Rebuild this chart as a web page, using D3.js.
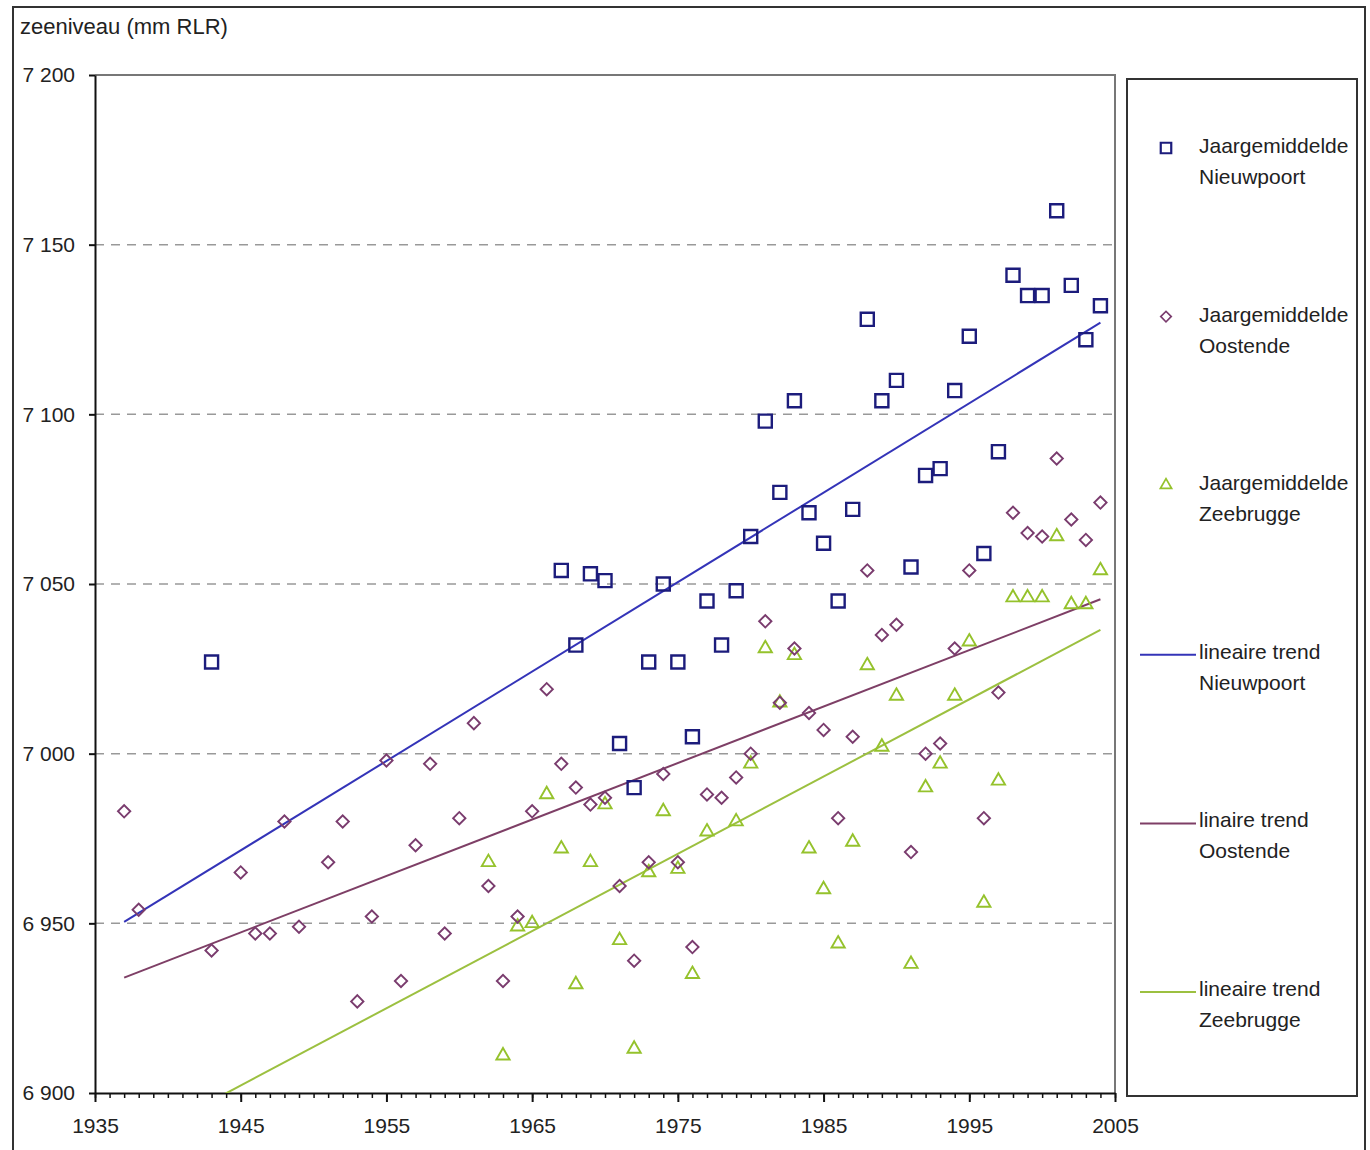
<!DOCTYPE html>
<html>
<head>
<meta charset="utf-8">
<script src="https://cdn.jsdelivr.net/npm/d3@7"></script>
<style>
  body { margin: 0; background: #fff; }
  text { font-family: "Liberation Sans", Arial, sans-serif; fill: #222; }
</style>
</head>
<body>
<div id="chart"></div>
<script>
// yearly means (mm RLR)
const nieuwpoortYears = [1943, 1967, 1968, 1969, 1970, 1971, 1972, 1973, 1974, 1975, 1976, 1977, 1978, 1979, 1980,
  1981, 1982, 1983, 1984, 1985, 1986, 1987, 1988, 1989, 1990, 1991, 1992, 1993, 1994, 1995, 1996, 1997, 1998, 1999,
  2000, 2001, 2002, 2003, 2004]
const nieuwpoortValues = [7027, 7054, 7032, 7053, 7051, 7003, 6990, 7027, 7050, 7027, 7005, 7045, 7032, 7048, 7064,
  7098, 7077, 7104, 7071, 7062, 7045, 7072, 7128, 7104, 7110, 7055, 7082, 7084, 7107, 7123, 7059, 7089, 7141, 7135,
  7135, 7160, 7138, 7122, 7132]

const oostendeYears = [1937, 1938, 1943, 1945, 1946, 1947, 1948, 1949, 1951, 1952, 1953, 1954, 1955, 1956, 1957,
  1958, 1959, 1960, 1961, 1962, 1963, 1964, 1965, 1966, 1967, 1968, 1969, 1970, 1971, 1972, 1973, 1974, 1975, 1976,
  1977, 1978, 1979, 1980, 1981, 1982, 1983, 1984, 1985, 1986, 1987, 1988, 1989, 1990, 1991, 1992, 1993, 1994, 1995,
  1996, 1997, 1998, 1999, 2000, 2001, 2002, 2003, 2004]
const oostendeValues = [6983, 6954, 6942, 6965, 6947, 6947, 6980, 6949, 6968, 6980, 6927, 6952, 6998, 6933, 6973,
  6997, 6947, 6981, 7009, 6961, 6933, 6952, 6983, 7019, 6997, 6990, 6985, 6987, 6961, 6939, 6968, 6994, 6968, 6943,
  6988, 6987, 6993, 7000, 7039, 7015, 7031, 7012, 7007, 6981, 7005, 7054, 7035, 7038, 6971, 7000, 7003, 7031, 7054,
  6981, 7018, 7071, 7065, 7064, 7087, 7069, 7063, 7074]

const zeebruggeYears = [1962, 1963, 1964, 1965, 1966, 1967, 1968, 1969, 1970, 1971, 1972, 1973, 1974, 1975, 1976,
  1977, 1979, 1980, 1981, 1982, 1983, 1984, 1985, 1986, 1987, 1988, 1989, 1990, 1991, 1992, 1993, 1994, 1995, 1996,
  1997, 1998, 1999, 2000, 2001, 2002, 2003, 2004]
const zeebruggeValues = [6968, 6911, 6949, 6950, 6988, 6972, 6932, 6968, 6985, 6945, 6913, 6965, 6983, 6966, 6935,
  6977, 6980, 6997, 7031, 7015, 7029, 6972, 6960, 6944, 6974, 7026, 7002, 7017, 6938, 6990, 6997, 7017, 7033, 6956,
  6992, 7046, 7046, 7046, 7064, 7044, 7044, 7054]

// linear trends: value at first and last year
const trendYears = [1937, 2004]
const nieuwpoortTrend = [6950.4, 7127]
const oostendeTrend = [6934, 7045.5]
const zeebruggeTrend = [6884, 7036.5]

const xTicks = [1935, 1945, 1955, 1965, 1975, 1985, 1995, 2005]
const yTicks = [6900, 6950, 7000, 7050, 7100, 7150, 7200]

const legendLabels = [
  ["Jaargemiddelde", "Nieuwpoort"],
  ["Jaargemiddelde", "Oostende"],
  ["Jaargemiddelde", "Zeebrugge"],
  ["lineaire trend", "Nieuwpoort"],
  ["linaire trend", "Oostende"],
  ["lineaire trend", "Zeebrugge"]
]

const W = 1370, H = 1150
const plot = { left: 95, top: 75, right: 1115, bottom: 1093 }

const svg = d3.select("#chart").append("svg")
  .attr("width", W)
  .attr("height", H)

// outer frame
svg.append("rect")
  .attr("x", 13).attr("y", 7)
  .attr("width", 1352).attr("height", 1170)
  .attr("fill", "none").attr("stroke", "#333").attr("stroke-width", 2)

const x = d3.scaleLinear().domain([1935, 2005]).range([plot.left, plot.right])
const y = d3.scaleLinear().domain([6900, 7200]).range([plot.bottom, plot.top])

const fmt = d3.formatLocale({ decimal: ",", thousands: " ", grouping: [3], currency: ["", ""] }).format(",")

svg.append("defs").append("clipPath").attr("id", "plotclip")
  .append("rect")
  .attr("x", plot.left).attr("y", plot.top)
  .attr("width", plot.right - plot.left).attr("height", plot.bottom - plot.top)

// dashed gridlines
svg.append("g")
  .selectAll("line")
  .data(yTicks.filter(d => d > 6900 && d < 7200))
  .join("line")
  .attr("x1", plot.left).attr("x2", plot.right)
  .attr("y1", d => y(d)).attr("y2", d => y(d))
  .attr("stroke", "#999").attr("stroke-width", 1.5)
  .attr("stroke-dasharray", "9,7")

// top and right border of plot
svg.append("path")
  .attr("d", `M${plot.left},${plot.top}H${plot.right}V${plot.bottom}`)
  .attr("fill", "none").attr("stroke", "#777").attr("stroke-width", 2)

// y axis
const yAxis = svg.append("g")
  .attr("transform", `translate(${plot.left},0)`)
  .call(d3.axisLeft(y).tickValues(yTicks).tickFormat(fmt).tickSize(6).tickPadding(14).tickSizeOuter(0))
yAxis.select(".domain").attr("stroke", "#111").attr("stroke-width", 2)
yAxis.selectAll(".tick line").attr("stroke", "#111").attr("stroke-width", 2)
yAxis.selectAll("text").attr("font-size", 21).attr("fill", "#333")
  .attr("font-family", "Liberation Sans, Arial, sans-serif")

// x axis: yearly minor ticks + decade ticks
const xMinor = svg.append("g")
  .attr("transform", `translate(0,${plot.bottom})`)
  .call(d3.axisBottom(x).tickValues(d3.range(1935, 2006)).tickSize(5).tickFormat("").tickSizeOuter(0))
xMinor.select(".domain").remove()
xMinor.selectAll(".tick line").attr("stroke", "#111").attr("stroke-width", 1.5)

const xAxis = svg.append("g")
  .attr("transform", `translate(0,${plot.bottom})`)
  .call(d3.axisBottom(x).tickValues(xTicks).tickFormat(d3.format("d")).tickSize(9).tickPadding(16).tickSizeOuter(0))
xAxis.select(".domain").attr("stroke", "#111").attr("stroke-width", 2)
xAxis.selectAll(".tick line").attr("stroke", "#111").attr("stroke-width", 2)
xAxis.selectAll("text").attr("font-size", 21).attr("fill", "#333")
  .attr("font-family", "Liberation Sans, Arial, sans-serif")

// y axis title
svg.append("text")
  .attr("x", 20).attr("y", 34)
  .attr("font-size", 22)
  .attr("fill", "#333")
  .text("zeeniveau (mm RLR)")

// series styles
const series = [
  { years: nieuwpoortYears, values: nieuwpoortValues, trend: nieuwpoortTrend,
    marker: "square", stroke: "#1c1c7c", trendColor: "#3434b8" },
  { years: oostendeYears, values: oostendeValues, trend: oostendeTrend,
    marker: "diamond", stroke: "#7a3c6e", trendColor: "#7e3f66" },
  { years: zeebruggeYears, values: zeebruggeValues, trend: zeebruggeTrend,
    marker: "triangle", stroke: "#95c22c", trendColor: "#9cc040" }
]

function markerPath(type, small) {
  if (type === "square") return d3.symbol(d3.symbolSquare, small ? 110 : 170)()
  if (type === "diamond") return d3.symbol(d3.symbolSquare, small ? 55 : 76)()
  return d3.symbol(d3.symbolTriangle, small ? 55 : 76)()
}

const line = d3.line().x(d => x(d[0])).y(d => y(d[1]))

// trend lines
svg.append("g").attr("clip-path", "url(#plotclip)")
  .selectAll("path")
  .data(series)
  .join("path")
  .attr("d", s => line(trendYears.map((yr, i) => [yr, s.trend[i]])))
  .attr("fill", "none")
  .attr("stroke", s => s.trendColor)
  .attr("stroke-width", 2)

// markers, Zeebrugge first so the others sit on top
series.slice().reverse().forEach(s => {
  svg.append("g")
    .selectAll("path")
    .data(s.years.map((yr, i) => [yr, s.values[i]]))
    .join("path")
    .attr("d", markerPath(s.marker, false))
    .attr("transform", d => `translate(${x(d[0])},${y(d[1])})` + (s.marker === "diamond" ? " rotate(45)" : ""))
    .attr("fill", "none")
    .attr("stroke", s.stroke)
    .attr("stroke-width", s.marker === "square" ? 2.4 : 1.9)
})

// legend
svg.append("rect")
  .attr("x", 1127).attr("y", 79)
  .attr("width", 230).attr("height", 1017)
  .attr("fill", "#fff").attr("stroke", "#333").attr("stroke-width", 2)

const legendY = d3.scalePoint().domain(d3.range(6)).range([145, 988])

const items = svg.append("g")
  .selectAll("g")
  .data(legendLabels)
  .join("g")
  .attr("transform", (d, i) => `translate(0,${legendY(i)})`)

items.each(function (d, i) {
  const g = d3.select(this)
  const s = series[i % 3]
  if (i < 3) {
    g.append("path")
      .attr("d", markerPath(s.marker, true))
      .attr("transform", "translate(1166,3)" + (s.marker === "diamond" ? " rotate(45)" : ""))
      .attr("fill", "none")
      .attr("stroke", s.stroke)
      .attr("stroke-width", s.marker === "square" ? 2.2 : 1.7)
  } else {
    g.append("line")
      .attr("x1", 1140).attr("x2", 1196)
      .attr("y1", 4).attr("y2", 4)
      .attr("stroke", s.trendColor)
      .attr("stroke-width", 2)
  }
  g.selectAll("text")
    .data(d)
    .join("text")
    .attr("x", 1199)
    .attr("y", (t, j) => 8 + j * 31)
    .attr("font-size", 21)
    .attr("fill", "#333")
    .text(t => t)
})
</script>
</body>
</html>
